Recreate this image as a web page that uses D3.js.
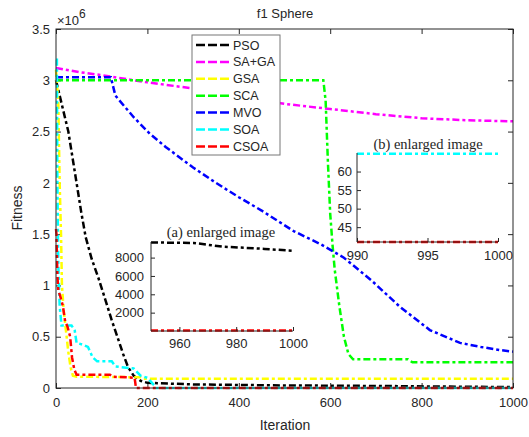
<!DOCTYPE html>
<html>
<head>
<meta charset="utf-8">
<script src="https://cdn.jsdelivr.net/npm/d3@7"></script>
<style>
  body { margin: 0; background: #fff; }
  text { font-family: "Liberation Sans", Arial, sans-serif; fill: #262626; }
  .serif { font-family: "Liberation Serif", "Times New Roman", serif; }
</style>
</head>
<body>
<svg width="529" height="437"></svg>
<script>
// series: [iteration, fitness / 1e6]
var pso   = [[0,3.0],[27,2.5],[45,2.0],[55,1.72],[65,1.47],[78,1.26],[93,1.07],[108,0.86],[122,0.66],[135,0.49],[147,0.33],[158,0.2],[170,0.12],[185,0.07],[200,0.05],[300,0.035],[500,0.025],[700,0.02],[900,0.012],[1000,0.0087]];
var saga  = [[0,3.12],[50,3.08],[100,3.05],[200,2.98],[300,2.92],[400,2.84],[500,2.77],[600,2.72],[700,2.67],[800,2.63],[900,2.61],[1000,2.6]];
var gsa   = [[0,3.1],[5,2.8],[8,2.0],[11,1.5],[13,1.0],[17,0.75],[22,0.55],[27,0.35],[32,0.2],[37,0.12],[45,0.11],[185,0.105],[192,0.09],[1000,0.09]];
var sca   = [[0,3.0],[585,3.0],[590,2.8],[595,2.2],[600,1.7],[605,1.4],[610,1.15],[620,0.8],[630,0.5],[640,0.33],[650,0.28],[770,0.28],[780,0.25],[1000,0.25]];
var mvo   = [[0,3.03],[120,3.03],[130,2.85],[170,2.64],[205,2.48],[240,2.35],[300,2.15],[350,2.0],[400,1.86],[450,1.73],[520,1.53],[580,1.4],[630,1.27],[690,1.05],[753,0.79],[818,0.565],[884,0.44],[930,0.4],[971,0.37],[1000,0.354]];
var soa   = [[0,3.2],[2,3.2],[3,2.0],[5,1.2],[8,0.8],[11,0.66],[12,0.61],[34,0.61],[41,0.56],[45,0.44],[60,0.42],[70,0.40],[80,0.30],[90,0.26],[122,0.26],[130,0.21],[170,0.19],[185,0.12],[200,0.1],[210,0.05],[220,0.0001],[1000,0.0001]];
var csoa  = [[0,1.55],[1,1.5],[3,1.1],[5,0.95],[9,0.9],[15,0.8],[20,0.65],[25,0.6],[31,0.5],[35,0.3],[40,0.18],[45,0.13],[118,0.13],[125,0.11],[172,0.1],[175,0.0],[1000,0.0]];

// enlarged views
var psoZoomA  = [[950,9650],[965,9600],[970,9400],[975,9200],[990,8950],[1000,8740]];
var csoaZoomA = [[950,41],[1000,41]];
var soaZoomB  = [[990,64.8],[1000,64.8]];
var csoaZoomB = [[990,41],[1000,41]];

var names  = ["PSO", "SA+GA", "GSA", "SCA", "MVO", "SOA", "CSOA"];
var colors = ["#000000", "#ff00ff", "#ffff00", "#00ff00", "#0000ff", "#00ffff", "#ff0000"];
var series = [pso, saga, gsa, sca, mvo, soa, csoa];

var xTicks = [0, 200, 400, 600, 800, 1000];
var yTicks = [0, 0.5, 1, 1.5, 2, 2.5, 3, 3.5];

var svg = d3.select("svg");
var dash = "7,3,3,3";

var x = d3.scaleLinear().domain([0, 1000]).range([56, 513]);
var y = d3.scaleLinear().domain([0, 3.5]).range([388, 29]);

function styleAxis(g) {
  g.select(".domain").remove();
  g.selectAll("line").attr("stroke", "#262626");
  g.selectAll("text").attr("font-size", 13).attr("font-family", null).attr("fill", "#262626");
}

// main axes with inward ticks on all four sides
svg.append("g").attr("transform", "translate(0,388)")
  .call(d3.axisBottom(x).tickValues(xTicks).tickSize(-5).tickPadding(10).tickFormat(d3.format("d")))
  .call(styleAxis);
svg.append("g").attr("transform", "translate(0,29)")
  .call(d3.axisTop(x).tickValues(xTicks).tickSize(-5).tickFormat(""))
  .call(styleAxis);
svg.append("g").attr("transform", "translate(56,0)")
  .call(d3.axisLeft(y).tickValues(yTicks).tickSize(-5).tickPadding(6).tickFormat(d3.format("")))
  .call(styleAxis);
svg.append("g").attr("transform", "translate(513,0)")
  .call(d3.axisRight(y).tickValues(yTicks).tickSize(-5).tickFormat(""))
  .call(styleAxis);

var line = d3.line()
  .x(function(d) { return x(d[0]); })
  .y(function(d) { return y(d[1]); });

var plot = svg.append("g");
series.forEach(function(s, i) {
  plot.append("path")
    .attr("d", line(s))
    .attr("fill", "none")
    .attr("stroke", colors[i])
    .attr("stroke-width", 2.5)
    .attr("stroke-dasharray", dash);
});

svg.append("rect")
  .attr("x", 56).attr("y", 29).attr("width", 457).attr("height", 359)
  .attr("fill", "none").attr("stroke", "#262626").attr("stroke-width", 1);

// labels
svg.append("text").attr("x", 285).attr("y", 18).attr("text-anchor", "middle")
  .attr("font-size", 13).text("f1 Sphere");
svg.append("text").attr("x", 285).attr("y", 430).attr("text-anchor", "middle")
  .attr("font-size", 14).text("Iteration");
svg.append("text").attr("transform", "translate(22,208) rotate(-90)")
  .attr("text-anchor", "middle").attr("font-size", 14).text("Fitness");
var expo = svg.append("text").attr("x", 57).attr("y", 25).attr("font-size", 13);
expo.append("tspan").text("\u00d710");
expo.append("tspan").attr("dy", -7).attr("font-size", 12).text("6");

// legend
var legend = svg.append("g");
legend.append("rect")
  .attr("x", 192).attr("y", 35).attr("width", 88).attr("height", 120)
  .attr("fill", "#fff").attr("stroke", "#777").attr("stroke-width", 1);
names.forEach(function(n, i) {
  var ly = 45 + i * 16.9;
  legend.append("line")
    .attr("x1", 196).attr("x2", 230).attr("y1", ly).attr("y2", ly)
    .attr("stroke", colors[i]).attr("stroke-width", 2.5).attr("stroke-dasharray", "9,3");
  legend.append("text").attr("x", 233).attr("y", ly + 4.5)
    .attr("font-size", 12.5).text(n);
});

// inset helper
function inset(opt) {
  var ix = d3.scaleLinear().domain(opt.xDomain).range(opt.xRange);
  var iy = d3.scaleLinear().domain(opt.yDomain).range(opt.yRange);
  var g = svg.append("g");
  g.append("rect")
    .attr("x", opt.xRange[0]).attr("y", opt.yRange[1])
    .attr("width", opt.xRange[1] - opt.xRange[0])
    .attr("height", opt.yRange[0] - opt.yRange[1])
    .attr("fill", "#fff");
  var il = d3.line().x(function(d) { return ix(d[0]); }).y(function(d) { return iy(d[1]); });
  opt.lines.forEach(function(l) {
    g.append("path").attr("d", il(l.data)).attr("fill", "none")
      .attr("stroke", l.color).attr("stroke-width", 2.5).attr("stroke-dasharray", dash);
  });
  g.append("g").attr("transform", "translate(0," + opt.yRange[0] + ")")
    .call(d3.axisBottom(ix).tickValues(opt.xTicks).tickSize(-4).tickPadding(opt.xPad).tickFormat(d3.format("d")))
    .call(styleAxis);
  g.append("g").attr("transform", "translate(" + opt.xRange[0] + ",0)")
    .call(d3.axisLeft(iy).tickValues(opt.yTicks).tickSize(-4).tickPadding(opt.yPad).tickFormat(d3.format("d")))
    .call(styleAxis);
  g.append("path")
    .attr("d", "M" + opt.xRange[0] + "," + opt.yRange[1] + "V" + opt.yRange[0] + "H" + opt.xRange[1])
    .attr("fill", "none").attr("stroke", "#262626");
  g.append("text").attr("class", "serif")
    .attr("x", opt.titleX).attr("y", opt.titleY)
    .attr("text-anchor", "middle").attr("font-size", 14.5).text(opt.title);
}

inset({
  title: "(a) enlarged image", titleX: 221, titleY: 237,
  xDomain: [950, 1000], xRange: [151, 293],
  yDomain: [0, 9700], yRange: [331, 242],
  xTicks: [960, 980, 1000], yTicks: [2000, 4000, 6000, 8000],
  xPad: 8, yPad: 7,
  lines: [{ data: psoZoomA, color: colors[0] }, { data: csoaZoomA, color: colors[6] }]
});

inset({
  title: "(b) enlarged image", titleX: 428, titleY: 149,
  xDomain: [990, 1000], xRange: [357, 498],
  yDomain: [41, 65], yRange: [242, 153],
  xTicks: [990, 995, 1000], yTicks: [45, 50, 55, 60],
  xPad: 9, yPad: 5,
  lines: [{ data: soaZoomB, color: colors[5] }, { data: csoaZoomB, color: colors[6] }]
});
</script>
</body>
</html>
